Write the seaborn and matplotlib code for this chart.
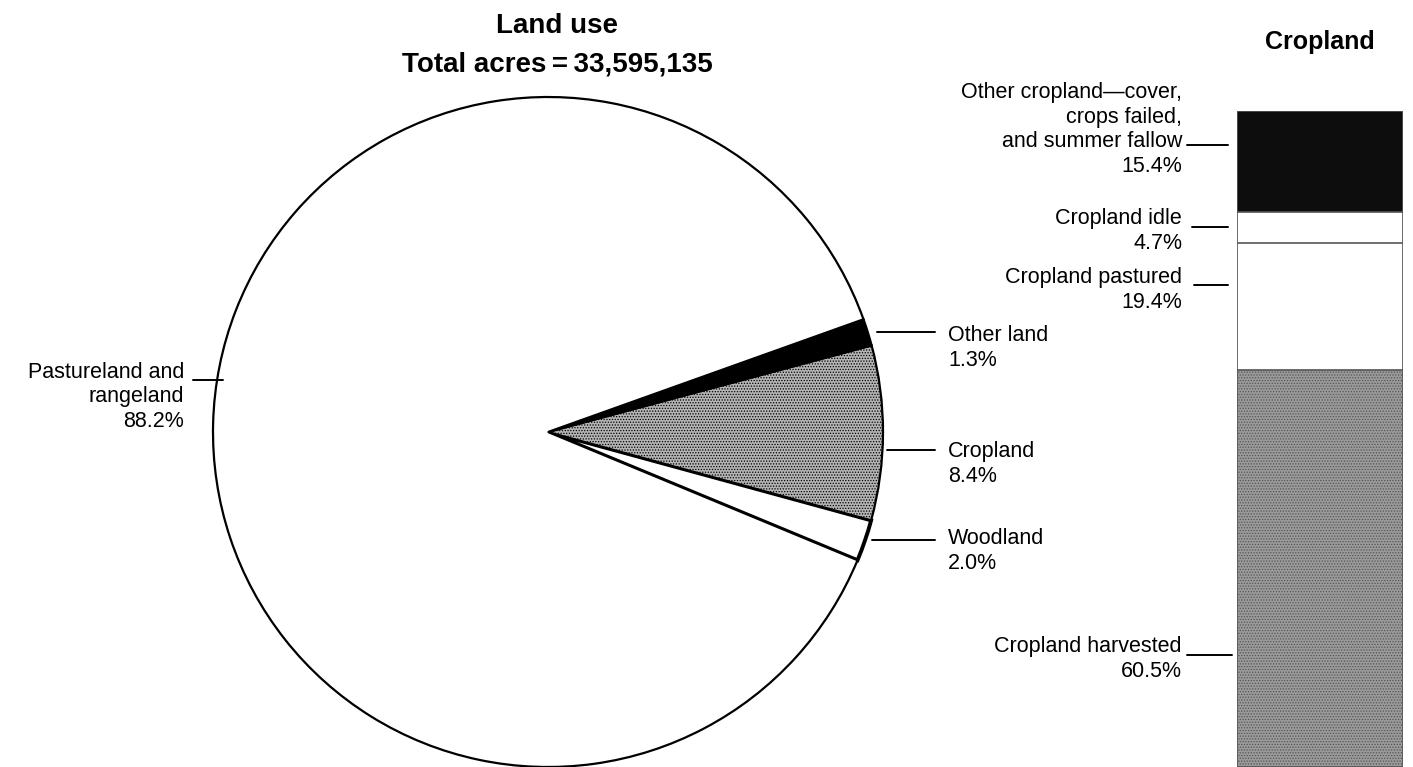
import matplotlib
matplotlib.use("Agg")
import matplotlib.pyplot as plt
import seaborn as sns
import pandas as pd

# Land use shares (percent), counterclockwise from the woodland slice
land_labels = ["Woodland\n2.0%", "Cropland\n8.4%", "Other land\n1.3%", "Pastureland and\nrangeland\n88.2%"]
land_share = [2.0, 8.4, 1.3, 88.2]
land_colors = ["white", "#b4b4b4", "black", "white"]
land_hatch = [None, "......", None, None]

# Cropland breakdown (percent), bottom to top
crop_labels = ["Cropland harvested\n60.5%", "Cropland pastured\n19.4%", "Cropland idle\n4.7%",
               "Other cropland\u2014cover,\ncrops failed,\nand summer fallow\n15.4%"]
crop_share = [60.5, 19.4, 4.7, 15.4]
crop_colors = ["#9a9a9a", "white", "white", "#0d0d0d"]
crop_hatch = ["......", None, None, None]

title_main = "Land use"
title_total = "Total acres\u2009=\u200933,595,135"
title_crop = "Cropland"

sns.set_theme(style="white")
plt.rcParams["font.family"] = ["Liberation Sans", "DejaVu Sans"]
plt.rcParams["text.color"] = "black"
plt.rcParams["hatch.linewidth"] = 0.6
plt.rcParams["hatch.color"] = "#555555"

W, H = 1413, 767
fig = plt.figure(figsize=(W / 100, H / 100), dpi=100)

# pie: centre (548, 432) px, radius 336 px
cx, cy, r = 548, 432, 336
ax_pie = fig.add_axes([(cx - r) / W, (H - cy - r) / H, 2 * r / W, 2 * r / H])
wedges, _ = ax_pie.pie(land_share, colors=land_colors, startangle=-22.5, counterclock=True,
                       wedgeprops=dict(edgecolor="black", linewidth=1.6))
for w, h in zip(wedges, land_hatch):
    if h:
        w.set_hatch(h)
wedges[0].set_linewidth(2.8)
ax_pie.set_xlim(-1.003, 1.003)
ax_pie.set_ylim(-1.003, 1.003)
ax_pie.set_axis_off()

# stacked cropland bar, drawn as overlapping cumulative bars with seaborn
bar_top, bar_left, bar_w = 111, 1237, 166
ax_bar = fig.add_axes([bar_left / W, 0, bar_w / W, (H - bar_top) / H])
cum = pd.Series(crop_share).cumsum()
for i in reversed(range(len(crop_share))):
    df = pd.DataFrame({"x": ["c"], "y": [cum[i]]})
    sns.barplot(data=df, x="x", y="y", color=crop_colors[i], width=1.0, ax=ax_bar,
                edgecolor="#555555", linewidth=1.2, saturation=1, hatch=crop_hatch[i])
ax_bar.set_xlim(-0.5, 0.5)
ax_bar.set_ylim(0, 100)
ax_bar.set_axis_off()

# overlay for text and leader lines, in pixel coordinates
ov = fig.add_axes([0, 0, 1, 1])
ov.set_xlim(0, W)
ov.set_ylim(H, 0)
ov.set_axis_off()
ov.patch.set_alpha(0)

fs = 15.5
ov.text(557, 33, title_main, ha="center", va="baseline", fontsize=20, fontweight="bold")
ov.text(557, 72, title_total, ha="center", va="baseline", fontsize=20, fontweight="bold")
ov.text(1320, 49, title_crop, ha="center", va="baseline", fontsize=18, fontweight="bold")

# label anchor (x, baseline of last line, ha) and leader line (x0, x1, y)
land_pos = [(948, 569, "left", 872, 935, 540),
            (948, 482, "left", 887, 935, 450),
            (948, 366, "left", 877, 935, 332),
            (184, 427, "right", 193, 223, 380)]
crop_pos = [(1182, 677, "right", 1187, 1232, 655),
            (1182, 308, "right", 1194, 1228, 285),
            (1182, 249, "right", 1192, 1228, 227),
            (1182, 172, "right", 1187, 1228, 145)]

for lab, (x, y, ha, x0, x1, ly) in zip(land_labels + crop_labels, land_pos + crop_pos):
    ov.text(x, y, lab, ha=ha, va="baseline", fontsize=fs, multialignment=ha, linespacing=1.23)
    ov.plot([x0, x1], [ly, ly], color="black", lw=1.4)

fig.savefig("out.png", dpi=100)
